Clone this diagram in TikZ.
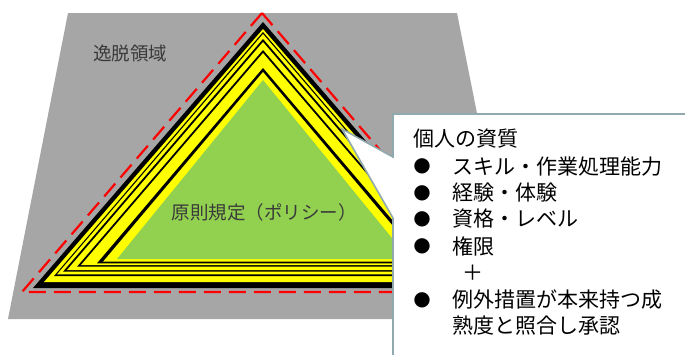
\documentclass[tikz,border=0pt]{standalone}
\usepackage{fontspec}
\setmainfont{Noto Sans CJK JP}
\newfontfamily\jp{Noto Sans CJK JP}
\newfontfamily\dejavu{DejaVu Sans}
\definecolor{grayA}{HTML}{A6A6A6}
\definecolor{yel}{HTML}{FFFF00}
\definecolor{grn}{HTML}{92D050}
\definecolor{redd}{HTML}{FF0000}
\definecolor{callb}{HTML}{8FA9AE}
\definecolor{txtd}{HTML}{3A3A3A}
\tikzset{
  lbl/.style={inner sep=0pt, outer sep=0pt, font=\jp\fontsize{18.5}{20}\selectfont, text=txtd},
  ctext/.style={inner sep=0pt, outer sep=0pt, anchor=west, font=\jp\fontsize{21}{23}\selectfont, text=black},
  bul/.style={inner sep=0pt, outer sep=0pt, font=\dejavu\fontsize{20}{22}\selectfont, text=black},
}
\begin{document}
\begin{tikzpicture}[x=1pt,y=-1pt]
\useasboundingbox (0,0) rectangle (685,354);
\clip (0,0) rectangle (685,354);
% deviation region
\fill[grayA] (68,13) -- (457,13) -- (518,319) -- (8,319) -- cycle;
% nested triangles
\foreach \a/\b/\h/\c in {22/288/230/black, 29/282/219/yel, 32/276/209/black,
  34/274.3/206/yel, 39/271.7/200/black, 42/270/196/yel, 50/266.7/186/black,
  53/265/182/yel, 68/263.3/166/black, 72/261.7/160/yel, 80/259/146/grn}
  \fill[\c] (263,\a) -- (263-\h,\b) -- (263+\h,\b) -- cycle;
% red dashed boundary
\draw[redd, line width=2.2pt, dash pattern=on 17pt off 8pt] (262,13) -- (22,292) -- (502,292) -- cycle;
% callout
\draw[callb, line width=1.6pt, fill=white] (393,114) -- (700,114) -- (700,360) -- (393,360) -- (393,218) -- (342,129) -- (393,157) -- cycle;
% labels
\node[lbl] (dev) at (130,53) {逸脱領域};
\node[lbl] (pol) at (264,212) {原則規定（ポリシー）};
\node[ctext] (t0) at (413,139) {個人の資質};
\node[bul] (b1) at (422,166.5) {●};
\node[ctext] (t1) at (452,166.5) {スキル・作業処理能力};
\node[bul] (b2) at (422,193) {●};
\node[ctext] (t2) at (452,193) {経験・体験};
\node[bul] (b3) at (422,219) {●};
\node[ctext] (t3) at (452,219) {資格・レベル};
\node[bul] (b4) at (422,246) {●};
\node[ctext] (t4) at (452,246) {権限};
\node[ctext] (t5) at (462,273) {＋};
\node[bul] (b6) at (422,300) {●};
\node[ctext] (t6) at (452,300) {例外措置が本来持つ成};
\node[ctext] (t7) at (452,326) {熟度と照合し承認};
\end{tikzpicture}
\end{document}
